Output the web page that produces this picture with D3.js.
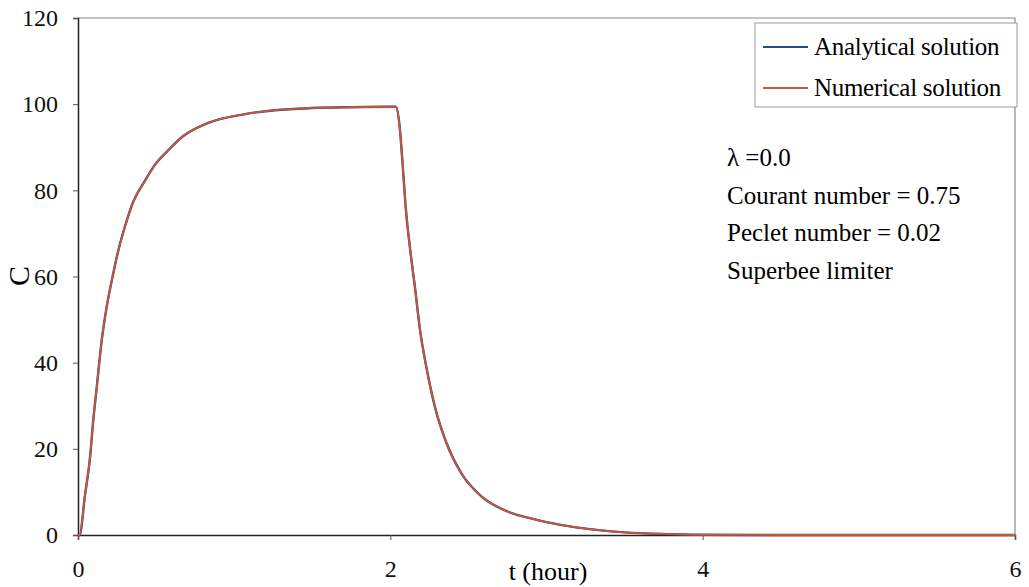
<!DOCTYPE html>
<html>
<head>
<meta charset="utf-8">
<script src="https://cdn.jsdelivr.net/npm/d3@7"></script>
<style>
  body { margin: 0; background: white; }
</style>
</head>
<body>
<div id="chart"></div>
<script>
const FONT = "'Liberation Serif', 'DejaVu Serif', 'Times New Roman', serif";

// time in hours
const tValues = [0, 0.01, 0.045, 0.077, 0.098, 0.12, 0.152, 0.184, 0.216, 0.258, 0.3, 0.35, 0.43, 0.49,
  0.57, 0.67, 0.83, 1.07, 1.26, 1.5, 1.75, 2.0, 2.035, 2.06, 2.08, 2.1, 2.125, 2.16, 2.19, 2.23, 2.285,
  2.36, 2.455, 2.585, 2.755, 2.86, 3.0, 3.2, 3.5, 3.8, 4.0, 4.5, 5.0, 5.5, 6.0];
const analytical = [0, 0, 9.3, 18, 26.7, 34.3, 45.2, 53, 59, 66, 71.5, 77, 82.3, 85.8,
  89.0, 92.5, 95.6, 97.7, 98.6, 99.1, 99.3, 99.4, 99.4, 94.7, 85.4, 75.4, 66.9, 56.8, 47.6, 39.1, 29.8,
  21.3, 14.3, 8.9, 5.4, 4.2, 3.0, 1.7, 0.6, 0.2, 0.05, 0, 0, 0, 0];
const numerical = [0, 0, 9.3, 18, 26.7, 34.3, 45.2, 53, 59, 66, 71.5, 77, 82.3, 85.8,
  89.0, 92.5, 95.6, 97.7, 98.6, 99.1, 99.3, 99.4, 99.4, 94.7, 85.4, 75.4, 66.9, 56.8, 47.6, 39.1, 29.8,
  21.3, 14.3, 8.9, 5.4, 4.2, 3.0, 1.7, 0.6, 0.2, 0.05, 0, 0, 0, 0];
const xTicks = [0, 2, 4, 6];
const yTicks = [0, 20, 40, 60, 80, 100, 120];
const seriesNames = ["Analytical solution", "Numerical solution"];
const seriesColors = ["#2b4a86", "#cc5533"];
const notes = ["\u03bb =0.0", "Courant number = 0.75", "Peclet number = 0.02", "Superbee limiter"];

const width = 1029, height = 587;
const margin = {left: 78, right: 14, top: 18, bottom: 52};

const svg = d3.select("#chart").append("svg")
    .attr("width", width)
    .attr("height", height)
    .attr("font-family", FONT);

const x = d3.scaleLinear().domain([0, 6]).range([margin.left, width - margin.right]);
const y = d3.scaleLinear().domain([0, 120]).range([height - margin.bottom, margin.top]);

// frame top + right
svg.append("path")
    .attr("d", `M${x(0)},${y(120)}H${x(6)}V${y(0)}`)
    .attr("fill", "none")
    .attr("stroke", "#888")
    .attr("stroke-width", 1.2);

// axes
const yAxis = svg.append("g")
    .attr("transform", `translate(${x(0)},0)`)
    .call(d3.axisLeft(y).tickValues(yTicks).tickSize(5).tickPadding(15).tickFormat(d3.format("d")));
const xAxis = svg.append("g")
    .attr("transform", `translate(0,${y(0)})`)
    .call(d3.axisBottom(x).tickValues(xTicks).tickSize(5).tickPadding(20).tickFormat(d3.format("d")));

[xAxis, yAxis].forEach(a => {
  a.attr("font-family", FONT);
  a.select(".domain").attr("stroke", "#222").attr("stroke-width", 1.5);
  a.selectAll(".tick line").attr("stroke", "#555");
  a.selectAll("text").attr("font-size", 24).attr("fill", "#111");
});

// axis titles
svg.append("text")
    .attr("x", 548).attr("y", 580)
    .attr("text-anchor", "middle")
    .attr("font-size", 26)
    .text("t (hour)");
svg.append("text")
    .attr("transform", "translate(18,276) rotate(-90)")
    .attr("text-anchor", "middle")
    .attr("dy", "0.35em")
    .attr("font-size", 30)
    .text("C");

// lines
const line = d3.line()
    .x((d, i) => x(tValues[i]))
    .y(d => y(d))
    .curve(d3.curveMonotoneX);

svg.append("path")
    .datum(analytical)
    .attr("d", line)
    .attr("fill", "none")
    .attr("stroke", seriesColors[0])
    .attr("stroke-width", 2.4);
svg.append("path")
    .datum(numerical)
    .attr("d", line)
    .attr("fill", "none")
    .attr("stroke", seriesColors[1])
    .attr("stroke-width", 1.8);

// legend
const legend = svg.append("g");
legend.append("rect")
    .attr("x", 755).attr("y", 23)
    .attr("width", 262).attr("height", 84)
    .attr("fill", "white")
    .attr("stroke", "#999")
    .attr("stroke-width", 1);
seriesNames.forEach((name, i) => {
  const ly = 47 + i * 41;
  legend.append("line")
      .attr("x1", 763).attr("x2", 808)
      .attr("y1", ly).attr("y2", ly)
      .attr("stroke", seriesColors[i])
      .attr("stroke-width", 2);
  legend.append("text")
      .attr("x", 814).attr("y", ly + 8)
      .attr("font-size", 25)
      .attr("letter-spacing", -0.3)
      .text(name);
});

// annotations
svg.selectAll(".note")
  .data(notes)
  .enter().append("text")
    .attr("class", "note")
    .attr("x", 727)
    .attr("y", (d, i) => 166 + i * 37.5)
    .attr("font-size", 25)
    .text(d => d);
</script>
</body>
</html>
